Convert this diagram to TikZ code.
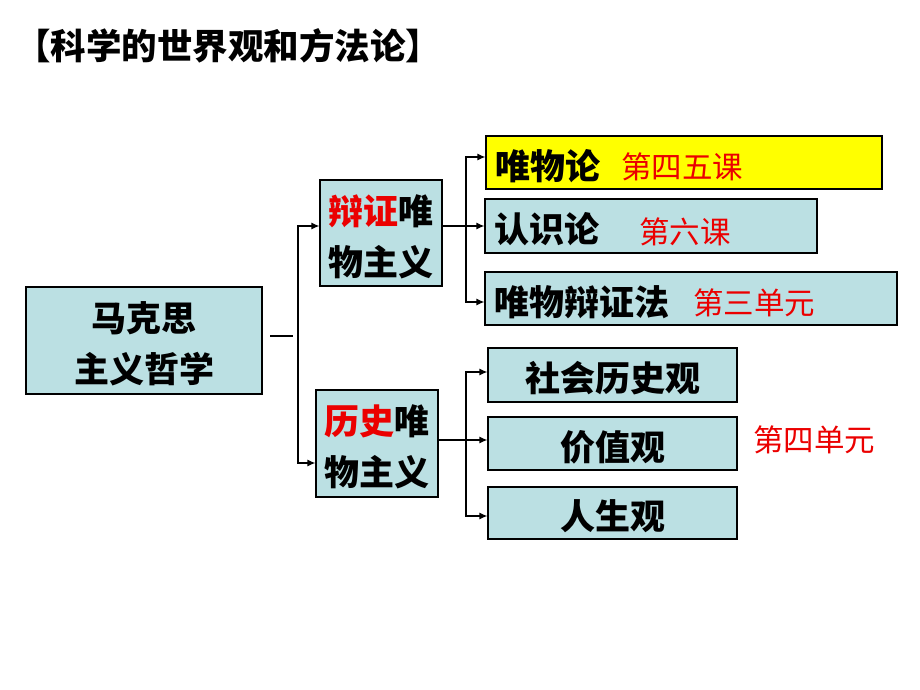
\documentclass[tikz,border=0pt]{standalone}
\usepackage{fontspec}
\setmainfont{Noto Sans CJK SC}
\usetikzlibrary{arrows.meta}
\definecolor{boxblue}{RGB}{187,224,227}
\definecolor{hlyellow}{RGB}{255,255,0}
\definecolor{labred}{RGB}{235,0,0}
\newcommand{\lowertxt}[1]{\raisebox{-3.5pt}[\height][\depth]{#1}}
\begin{document}
\begin{tikzpicture}[x=1pt,y=-1pt,
 box/.style={draw=black, line width=1.2pt, fill=boxblue, inner sep=0pt, align=center,
   font=\fontsize{35}{51}\selectfont\bfseries},
 lbox/.style={box, align=left, inner xsep=9pt},
 conn/.style={line width=1.2pt},
 arr/.style={conn, -{Latex[length=8pt,width=7pt]}},
 redlab/.style={text=labred, inner sep=0pt, anchor=west, font=\fontsize{30.5}{32}\selectfont}
]
\useasboundingbox (0,0) rectangle (920,690);

\node[anchor=west, inner sep=0pt, font=\fontsize{35.5}{38}\selectfont\bfseries] (title) at (15,46) {【科学的世界观和方法论】};

\node[box, minimum width=236pt, minimum height=107pt] (mk) at (144,340.5) {\lowertxt{马克思}\\\lowertxt{主义哲学}};
\node[box, minimum width=122pt, minimum height=106pt] (bz) at (381,233) {\lowertxt{\textcolor{labred}{辩证}唯}\\\lowertxt{物主义}};
\node[box, minimum width=122pt, minimum height=107pt] (ls) at (377,443.5) {\lowertxt{\textcolor{labred}{历史}唯}\\\lowertxt{物主义}};

\node[lbox, fill=hlyellow, text width=378pt, minimum height=53pt] (wl) at (684,162.5) {\lowertxt{唯物论}};
\node[lbox, text width=314pt, minimum height=54pt] (rs) at (651,226) {\lowertxt{认识论}};
\node[lbox, text width=394pt, minimum height=53pt] (bzf) at (691,298.5) {\lowertxt{唯物辩证法}};

\node[redlab] (l1) at (621,167) {第四五课};
\node[redlab] (l2) at (639,232) {第六课};
\node[redlab] (l3) at (693,303) {第三单元};

\node[box, minimum width=249pt, minimum height=54pt] (shls) at (612.5,375) {\lowertxt{社会历史观}};
\node[box, minimum width=249pt, minimum height=53pt] (jzg) at (612.5,443.5) {\lowertxt{价值观}};
\node[box, minimum width=249pt, minimum height=52pt] (rsg) at (612.5,513) {\lowertxt{人生观}};

\node[redlab, anchor=center] (l4) at (814,440) {第四单元};

% connectors
\coordinate (s1) at (270,336);
\coordinate (s2) at (293,336);
\draw[conn] (s1) -- (s2);
\coordinate (j1) at (298,336);
\draw[arr] (j1) |- ([yshift=7pt]bz.west);
\draw[arr] (j1) |- ([yshift=-19.5pt]ls.west);

\coordinate (j2) at (466,226);
\draw[arr] ([yshift=7pt]bz.east) -- (rs.west);
\draw[arr] (j2) |- ([yshift=5.5pt]wl.west);
\draw[arr] (j2) |- ([yshift=-3.5pt]bzf.west);

\coordinate (j3) at (466,440);
\draw[arr] ([yshift=3.5pt]ls.east) -- ([yshift=3.5pt]jzg.west);
\draw[arr] (j3) |- ([yshift=3pt]shls.west);
\draw[arr] (j3) |- ([yshift=-3pt]rsg.west);
\end{tikzpicture}
\end{document}
